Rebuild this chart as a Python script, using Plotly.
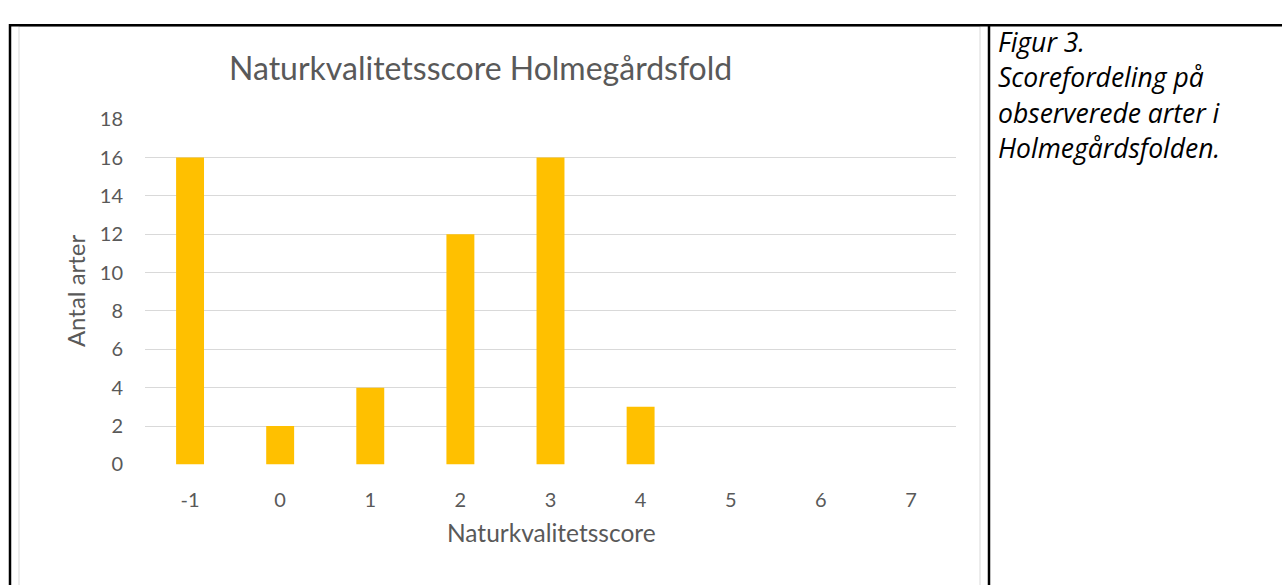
import plotly.graph_objects as go

categories = ["-1", "0", "1", "2", "3", "4", "5", "6", "7"]
counts = [16, 2, 4, 12, 16, 3, 0, 0, 0]
y_ticks = [0, 2, 4, 6, 8, 10, 12, 14, 16, 18]

title_text = "Naturkvalitetsscore Holmegårdsfold"
x_title = "Naturkvalitetsscore"
y_title = "Antal arter"
caption_lines = ["Figur 3.", "Scorefordeling på", "observerede arter i", "Holmegårdsfolden."]

W, H = 1282, 585
FONT = "Lato"
GRAY = "#595959"

def px(x):
    return x / W

def py(y):
    return 1 - y / H

fig = go.Figure()
fig.add_trace(go.Bar(x=categories, y=counts, marker_color="#FFC000",
                     marker_line_width=0, width=0.31))

fig.update_layout(
    width=W, height=H, autosize=False,
    margin=dict(l=0, r=0, t=0, b=0, pad=0),
    paper_bgcolor="white", plot_bgcolor="white",
    showlegend=False,
    font=dict(family=FONT, color=GRAY),
    xaxis=dict(domain=[px(145), px(956)], type="category",
               range=[-0.5, 8.5], showgrid=False, zeroline=False,
               showline=False, ticks="", tickfont=dict(size=20, color=GRAY),
               ticklabelstandoff=22),
    yaxis=dict(domain=[py(470.7), py(110.7)], range=[0, 18],
               tickvals=y_ticks, showgrid=True, gridcolor="#D9D9D9",
               gridwidth=1, zeroline=False, showline=False, ticks="",
               tickfont=dict(size=20, color=GRAY), ticklabelstandoff=21),
)

annotations = [
    dict(text=title_text, x=px(480), y=py(57), xref="paper", yref="paper",
         showarrow=False, xanchor="center", yanchor="middle",
         font=dict(size=32, color=GRAY, family=FONT)),
    dict(text=x_title, x=px(551), y=py(542), xref="paper", yref="paper",
         showarrow=False, xanchor="center", yanchor="middle",
         font=dict(size=24.5, color=GRAY, family=FONT)),
    dict(text=y_title, x=px(75), y=py(290), xref="paper", yref="paper",
         showarrow=False, xanchor="center", yanchor="middle", textangle=-90,
         font=dict(size=24, color=GRAY, family=FONT)),
]
for i, line in enumerate(caption_lines):
    annotations.append(dict(text="<i>" + line + "</i>", x=px(996), y=py(30 + 37 * i),
                            xref="paper", yref="paper", showarrow=False,
                            xanchor="left", yanchor="middle",
                            font=dict(size=26.5, color="black", family="Open Sans")))
fig.update_layout(annotations=annotations)

shapes = [
    # light chart border
    dict(type="rect", xref="paper", yref="paper", x0=px(19), x1=px(980),
         y0=py(600), y1=py(14), line=dict(color="#D9D9D9", width=1)),
    # black table lines
    dict(type="line", xref="paper", yref="paper", x0=px(9), x1=px(1290),
         y0=py(12.7), y1=py(12.7), line=dict(color="black", width=2.5)),
    dict(type="line", xref="paper", yref="paper", x0=px(10), x1=px(10),
         y0=py(11.5), y1=py(600), line=dict(color="black", width=2.5)),
    dict(type="line", xref="paper", yref="paper", x0=px(989), x1=px(989),
         y0=py(11.5), y1=py(600), line=dict(color="black", width=2.5)),
]
fig.update_layout(shapes=shapes)

fig.write_html("out.html", config={"displayModeBar": False})

with open("out.html", "r", encoding="utf-8") as f:
    html = f.read()
html = html.replace("<head>", "<head><style>html,body{margin:0;padding:0;overflow:hidden;}</style>", 1)
with open("out.html", "w", encoding="utf-8") as f:
    f.write(html)
